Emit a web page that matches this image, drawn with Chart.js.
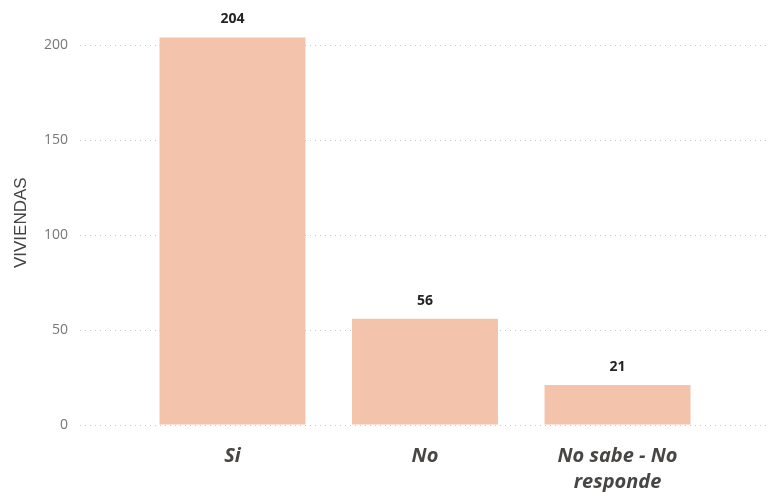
<!DOCTYPE html>
<html>
<head>
<meta charset="utf-8">
<script src="https://cdn.jsdelivr.net/npm/chart.js@4/dist/chart.umd.min.js"></script>
<style>
  html, body { margin: 0; padding: 0; background: #fff; }
  #wrap { width: 773px; height: 492px; }
</style>
</head>
<body>
<div id="wrap"><canvas id="chart" width="773" height="492"></canvas></div>
<script>
// ── Data ────────────────────────────────────────────────────
const categories = ['Si', 'No', ['No sabe - No', 'responde']];
const viviendas  = [204, 56, 21];
const yTicks     = [0, 50, 100, 150, 200];

const FONT = "'Open Sans', 'Noto Sans', sans-serif";

// ── Value labels above bars ─────────────────────────────────
const valueLabels = {
  id: 'valueLabels',
  afterDatasetsDraw(chart) {
    const ctx = chart.ctx;
    const meta = chart.getDatasetMeta(0);
    ctx.save();
    ctx.font = `bold 14px ${FONT}`;
    ctx.fillStyle = '#252423';
    ctx.textAlign = 'center';
    ctx.textBaseline = 'bottom';
    meta.data.forEach((bar, i) => {
      ctx.fillText(viviendas[i], bar.x, bar.y - 11);
    });
    ctx.restore();
  }
};

new Chart(document.getElementById('chart'), {
  type: 'bar',
  data: {
    datasets: [{
      label: 'VIVIENDAS',
      data: viviendas.map((v, i) => ({ x: i, y: v })),
      backgroundColor: '#F3C3AC',
      borderWidth: 0,
      barPercentage: 0.758,
      categoryPercentage: 1
    }]
  },
  options: {
    responsive: false,
    animation: false,
    layout: { padding: { top: 0, right: 3, bottom: 0, left: 0 } },
    plugins: { legend: { display: false }, tooltip: { enabled: false } },
    scales: {
      x: {
        type: 'linear',
        offset: false,
        min: -0.792,
        max: 2.792,
        afterFit: (scale) => { scale.height = 67; },
        grid: { display: false, offset: false },
        border: { display: false },
        ticks: {
          stepSize: 1,
          includeBounds: false,
          autoSkip: false,
          maxRotation: 0,
          padding: 10,
          color: '#484644',
          font: { family: FONT, size: 20, weight: 'bold', style: 'italic', lineHeight: 1.3 },
          callback: (v) => Number.isInteger(v) && categories[v] !== undefined ? categories[v] : ''
        }
      },
      y: {
        min: 0,
        max: 213,
        afterFit: (scale) => { scale.width = 80; },
        afterBuildTicks: (scale) => { scale.ticks = yTicks.map(v => ({ value: v })); },
        border: { display: false, dash: [1, 4] },
        grid: {
          color: '#c8c8c8',
          lineWidth: 1,
          drawTicks: false
        },
        ticks: {
          padding: 12,
          color: '#777777',
          font: { family: FONT, size: 14 }
        },
        title: {
          display: true,
          text: 'VIVIENDAS',
          color: '#444444',
          font: { family: "'Liberation Sans', Arial, sans-serif", size: 17 },
          padding: { top: 11, bottom: 4 }
        }
      }
    }
  },
  plugins: [valueLabels]
});
</script>
</body>
</html>
